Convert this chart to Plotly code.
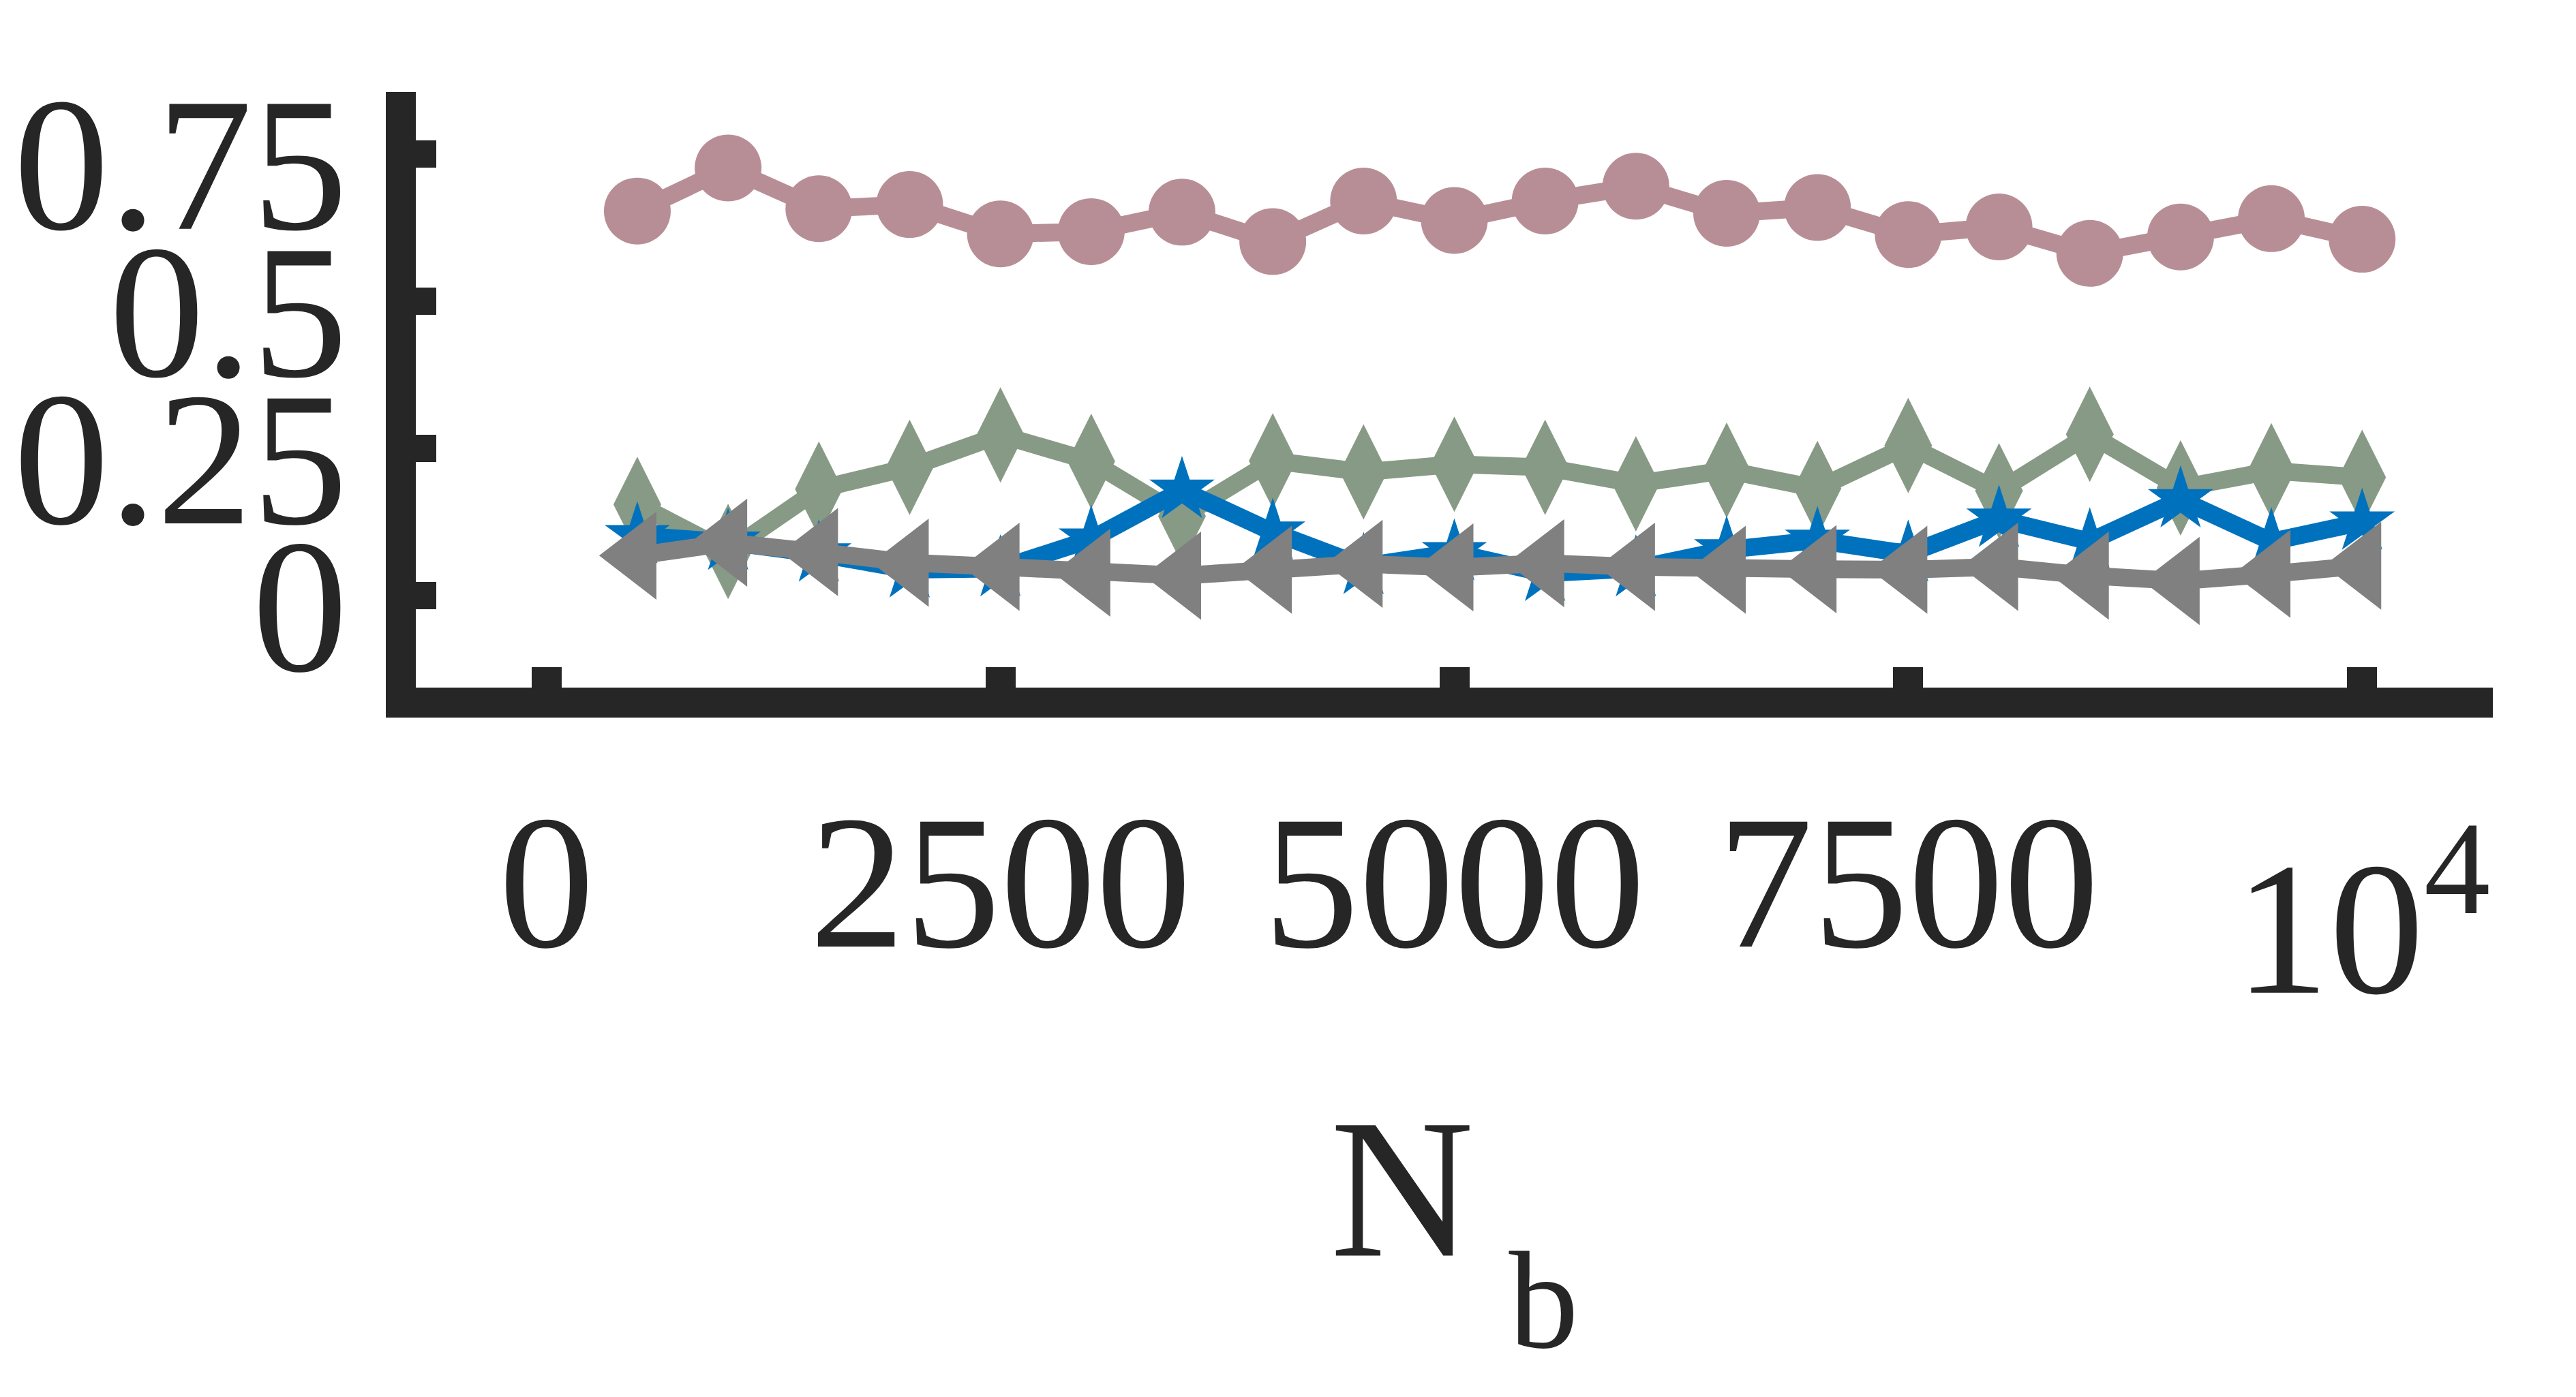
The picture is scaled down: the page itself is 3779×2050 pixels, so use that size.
import plotly.graph_objects as go

x_vals = [500, 1000, 1500, 2000, 2500, 3000, 3500, 4000, 4500, 5000,
          5500, 6000, 6500, 7000, 7500, 8000, 8500, 9000, 9500, 10000]

pink_vals = [0.653, 0.726, 0.657, 0.664, 0.614, 0.618, 0.651, 0.601, 0.670, 0.637,
             0.670, 0.695, 0.649, 0.659, 0.613, 0.626, 0.581, 0.609, 0.640, 0.605]
green_vals = [0.155, 0.075, 0.181, 0.218, 0.273, 0.228, 0.135, 0.229, 0.210, 0.223,
              0.218, 0.190, 0.213, 0.182, 0.255, 0.178, 0.274, 0.183, 0.212, 0.201]
blue_vals = [0.102, 0.091, 0.071, 0.044, 0.046, 0.096, 0.179, 0.108, 0.050, 0.073,
             0.038, 0.046, 0.078, 0.094, 0.071, 0.130, 0.092, 0.163, 0.092, 0.125]
gray_vals = [0.068, 0.090, 0.074, 0.056, 0.049, 0.039, 0.034, 0.044, 0.054, 0.048,
             0.055, 0.049, 0.044, 0.045, 0.044, 0.049, 0.034, 0.025, 0.037, 0.051]

x_tick_vals = [0, 2500, 5000, 7500, 10000]
x_tick_labels = ["0", "2500", "5000", "7500", "10<sup>4</sup>"]
y_tick_vals = [0, 0.25, 0.5, 0.75]
y_tick_labels = ["0", "0.25", "0.5", "0.75"]
x_title = ("N<sub>\u00a0<sub><sub><span style='font-size:204%'>b</span>"
           "</sub></sub></sub>")

AX = "#262626"
FONT = "Liberation Serif, Times New Roman, serif"

series = [
    (pink_vals, "#B88E96", "circle", 98),
    (green_vals, "#879A85", "diamond-tall", 100),
    (blue_vals, "#0072BD", "star", 72),
    (gray_vals, "#808080", "triangle-left", 112),
]

fig = go.Figure()
for vals, col, sym, sz in series:
    fig.add_trace(go.Scatter(
        x=x_vals, y=vals, mode="lines+markers",
        line=dict(color=col, width=26),
        marker=dict(symbol=sym, size=sz, color=col, line=dict(width=0)),
        showlegend=False, cliponaxis=False,
    ))

fig.update_layout(
    width=3779, height=2050,
    margin=dict(l=596, r=130, t=127, b=1049),
    paper_bgcolor="white", plot_bgcolor="white",
    font=dict(family=FONT, color=AX, size=270),
    xaxis=dict(
        range=[-720, 10720], tickmode="array",
        tickvals=x_tick_vals, ticktext=x_tick_labels[:-1] + [""],
        showline=True, linecolor=AX, linewidth=44,
        ticks="inside", ticklen=30, tickwidth=44, tickcolor=AX,
        showgrid=False, zeroline=False,
        tickfont=dict(family=FONT, size=280, color=AX),
        title=dict(text=x_title, font=dict(family=FONT, size=292, color=AX), standoff=210),
    ),
    yaxis=dict(
        range=[-0.156, 0.855], tickmode="array",
        tickvals=y_tick_vals, ticktext=y_tick_labels,
        showline=True, linecolor=AX, linewidth=44,
        ticks="inside", ticklen=30, tickwidth=40, tickcolor=AX,
        showgrid=False, zeroline=False,
        tickfont=dict(family=FONT, size=280, color=AX),
        ticklabelshift=12,
    ),
)

fig.add_annotation(
    x=x_tick_vals[-1], y=-0.178, xref="x", yref="paper",
    text=x_tick_labels[-1], showarrow=False,
    xanchor="center", yanchor="top",
    font=dict(family=FONT, size=278, color=AX),
)

fig.write_html("out.html")
